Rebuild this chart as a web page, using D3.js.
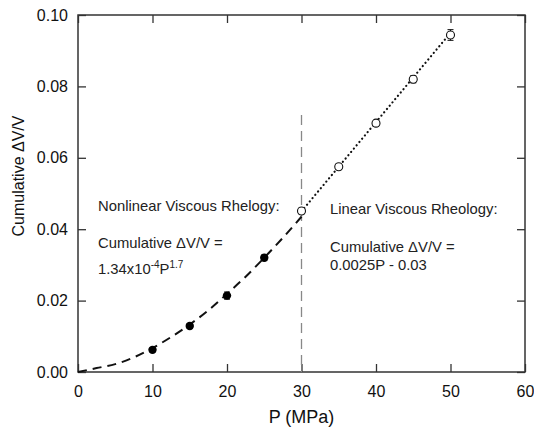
<!DOCTYPE html>
<meta charset="utf-8">
<style>
  body { margin: 0; background: #fff; }
  svg { font-family: "Liberation Sans", Arial, sans-serif; }
  .frame { fill: none; stroke: #333; stroke-width: 1.5; }
  .tick line { stroke: #333; stroke-width: 1.3; }
  .tick text { font-size: 16px; fill: #111; }
  .note { font-size: 14.8px; fill: #222; }
</style>
<svg width="534" height="429"></svg>
<script src="https://d3js.org/d3.v7.min.js"></script>
<script>
// measured points
var pFilled = [10, 15, 20, 25];
var vFilled = [0.0062, 0.0129, 0.0214, 0.0320];
var eFilled = [0.0006, 0.0007, 0.0010, 0.0008];
var pOpen = [30, 35, 40, 45, 50];
var vOpen = [0.0451, 0.0575, 0.0697, 0.0820, 0.0944];
var eOpen = [0.0008, 0.0008, 0.0008, 0.0010, 0.0015];

// fitted curves
var pNonlin = [0, 2.5, 5, 7.5, 10, 12.5, 15, 17.5, 20, 22.5, 25, 27.5, 30];
var vNonlin = [0, 0.0011, 0.0022, 0.0041, 0.0067, 0.0098, 0.0133, 0.0173, 0.0219, 0.0267, 0.0320, 0.0376, 0.0435];
var pLin = [30, 50];
var vLin = [0.045, 0.095];

var xTicks = [0, 10, 20, 30, 40, 50, 60];
var yTicks = [0, 0.02, 0.04, 0.06, 0.08, 0.10];

var svg = d3.select("svg");
var mLeft = 78, mRight = 525, mTop = 15, mBottom = 372;

var x = d3.scaleLinear().domain([0, 60]).range([mLeft, mRight]);
var y = d3.scaleLinear().domain([0, 0.10]).range([mBottom, mTop]);

// axes, ticks pointing inward on all sides
svg.append("g").attr("transform", "translate(0," + mBottom + ")")
    .call(d3.axisBottom(x).tickValues(xTicks).tickSizeInner(-8).tickSizeOuter(0).tickPadding(14))
    .call(function(g) { g.select(".domain").remove(); });
svg.append("g").attr("transform", "translate(0," + mTop + ")")
    .call(d3.axisTop(x).tickValues(xTicks).tickSizeInner(-8).tickSizeOuter(0).tickFormat(""))
    .call(function(g) { g.select(".domain").remove(); });
svg.append("g").attr("transform", "translate(" + mLeft + ",0)")
    .call(d3.axisLeft(y).tickValues(yTicks).tickSizeInner(-8).tickSizeOuter(0).tickPadding(10).tickFormat(d3.format(".2f")))
    .call(function(g) { g.select(".domain").remove(); });
svg.append("g").attr("transform", "translate(" + mRight + ",0)")
    .call(d3.axisRight(y).tickValues(yTicks).tickSizeInner(-8).tickSizeOuter(0).tickFormat(""))
    .call(function(g) { g.select(".domain").remove(); });

svg.append("rect").attr("class", "frame")
    .attr("x", mLeft).attr("y", mTop)
    .attr("width", mRight - mLeft).attr("height", mBottom - mTop);

// axis titles
svg.append("text")
    .attr("x", (mLeft + mRight) / 2).attr("y", 423)
    .attr("text-anchor", "middle")
    .style("font-size", "18px").style("fill", "#111")
    .text("P (MPa)");
svg.append("text")
    .attr("transform", "translate(24," + 176 + ") rotate(-90)")
    .attr("text-anchor", "middle")
    .style("font-size", "16px").style("fill", "#111")
    .text("Cumulative \u0394V/V");

// vertical divider at 30 MPa
svg.append("line")
    .attr("x1", x(30)).attr("x2", x(30))
    .attr("y1", y(0.072)).attr("y2", mBottom)
    .attr("stroke", "#888").attr("stroke-width", 1.3)
    .attr("stroke-dasharray", "10,6");

// nonlinear fit (dashed)
var line = d3.line()
    .x(function(d) { return x(d[0]); })
    .y(function(d) { return y(d[1]); })
    .curve(d3.curveMonotoneX);
svg.append("path")
    .datum(d3.zip(pNonlin, vNonlin))
    .attr("d", line)
    .attr("fill", "none").attr("stroke", "#111").attr("stroke-width", 2)
    .attr("stroke-dasharray", "9,6");

// linear fit (dotted)
svg.append("path")
    .datum(d3.zip(pLin, vLin))
    .attr("d", line)
    .attr("fill", "none").attr("stroke", "#111").attr("stroke-width", 2.2)
    .attr("stroke-linecap", "round")
    .attr("stroke-dasharray", "0.1,4.2");

// error bars
function errorBars(ps, vs, es) {
  var g = svg.append("g").attr("stroke", "#111").attr("stroke-width", 1);
  ps.forEach(function(p, i) {
    var cx = x(p), y0 = y(vs[i] - es[i]), y1 = y(vs[i] + es[i]);
    g.append("line").attr("x1", cx).attr("x2", cx).attr("y1", y0).attr("y2", y1);
    g.append("line").attr("x1", cx - 3).attr("x2", cx + 3).attr("y1", y0).attr("y2", y0);
    g.append("line").attr("x1", cx - 3).attr("x2", cx + 3).attr("y1", y1).attr("y2", y1);
  });
}
errorBars(pFilled, vFilled, eFilled);
errorBars(pOpen, vOpen, eOpen);

svg.append("g").selectAll("circle")
    .data(d3.zip(pFilled, vFilled))
    .enter().append("circle")
    .attr("cx", function(d) { return x(d[0]); })
    .attr("cy", function(d) { return y(d[1]); })
    .attr("r", 4.2)
    .attr("fill", "#000");

svg.append("g").selectAll("circle")
    .data(d3.zip(pOpen, vOpen))
    .enter().append("circle")
    .attr("cx", function(d) { return x(d[0]); })
    .attr("cy", function(d) { return y(d[1]); })
    .attr("r", 4)
    .attr("fill", "#fff").attr("stroke", "#111").attr("stroke-width", 1.1);

// annotations
function note(xp, yp, parts) {
  var t = svg.append("text").attr("class", "note").attr("x", xp).attr("y", yp);
  parts.forEach(function(p) {
    var s = t.append("tspan").text(p[0]);
    if (p[1]) s.attr("dy", -6).style("font-size", "10px");
    if (p[2]) s.attr("dy", 6);
  });
}
note(98, 211, [["Nonlinear Viscous Rhelogy:"]]);
note(98, 248, [["Cumulative \u0394V/V ="]]);
note(98, 274, [["1.34x10"], ["-4", true], ["P", false, true], ["1.7", true]]);
note(330, 214, [["Linear Viscous Rheology:"]]);
note(330, 252, [["Cumulative \u0394V/V ="]]);
note(330, 270, [["0.0025P - 0.03"]]);
</script>
